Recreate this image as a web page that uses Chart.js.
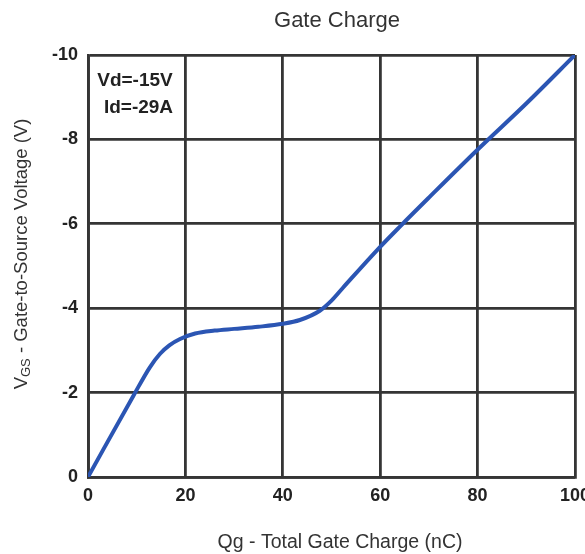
<!DOCTYPE html>
<html>
<head>
<meta charset="utf-8">
<script src="https://cdn.jsdelivr.net/npm/chart.js@4/dist/chart.umd.min.js"></script>
<style>
html,body{margin:0;padding:0;background:#fff;}
#wrap{width:585px;height:554px;position:relative;}
</style>
</head>
<body>
<div id="wrap"><canvas id="c" width="585" height="554"></canvas></div>
<script>
const chartTitle = "Gate Charge";
const xTitle = "Qg - Total Gate Charge (nC)";
const yTitleMain = "V";
const yTitleSub = "GS";
const yTitleRest = " - Gate-to-Source Voltage (V)";
const noteLines = ["Vd=-15V", "Id=-29A"];
const xTicks = [0, 20, 40, 60, 80, 100];
const yTicks = [0, -2, -4, -6, -8, -10];
const gateCharge = [0, 9.3, 12.7, 14.8, 16.7, 18.9, 22, 26, 30, 35, 40, 43.5, 47.6, 50, 52.4, 59.8, 64.1, 70, 80.3, 90, 100];
const gateVoltage = [0, -1.92, -2.6, -2.92, -3.12, -3.27, -3.4, -3.47, -3.51, -3.56, -3.63, -3.72, -3.94, -4.18, -4.49, -5.43, -5.94, -6.62, -7.79, -8.85, -10];

const FONT = "'Liberation Sans', Arial, sans-serif";
const points = gateCharge.map((q, i) => ({x: q, y: gateVoltage[i]}));

const extras = {
  id: 'extras',
  afterDraw(chart) {
    const ctx = chart.ctx;
    ctx.save();
    // chart title
    ctx.fillStyle = '#333';
    ctx.font = '22px ' + FONT;
    ctx.textAlign = 'center';
    ctx.textBaseline = 'middle';
    ctx.fillText(chartTitle, 337, 21);
    // x title
    ctx.font = '19.5px ' + FONT;
    ctx.fillText(xTitle, 340, 543);
    // note
    ctx.fillStyle = '#222';
    ctx.font = 'bold 19px ' + FONT;
    ctx.fillText(noteLines[0], 135, 81);
    ctx.fillText(noteLines[1], 138.5, 108);
    // y title with subscript
    ctx.translate(22, 254);
    ctx.rotate(-Math.PI / 2);
    ctx.fillStyle = '#333';
    ctx.textBaseline = 'middle';
    ctx.textAlign = 'left';
    const fMain = '18.5px ' + FONT, fSub = '13px ' + FONT;
    ctx.font = fMain; const w1 = ctx.measureText(yTitleMain).width;
    ctx.font = fSub; const w2 = ctx.measureText(yTitleSub).width;
    ctx.font = fMain; const w3 = ctx.measureText(yTitleRest).width;
    let x0 = -(w1 + w2 + w3) / 2;
    ctx.font = fMain; ctx.fillText(yTitleMain, x0, 0);
    ctx.font = fSub; ctx.fillText(yTitleSub, x0 + w1, 4);
    ctx.font = fMain; ctx.fillText(yTitleRest, x0 + w1 + w2, 0);
    ctx.restore();
  }
};

new Chart(document.getElementById('c'), {
  type: 'scatter',
  data: {
    datasets: [{
      data: points,
      showLine: true,
      borderColor: '#2b55b3',
      borderWidth: 4,
      pointRadius: 0,
      cubicInterpolationMode: 'monotone',
      fill: false
    }]
  },
  options: {
    responsive: false,
    animation: false,
    layout: {padding: {top: 55, left: 0, right: 0, bottom: 0}},
    plugins: {
      legend: {display: false},
      tooltip: {enabled: false},
      title: {display: false}
    },
    scales: {
      x: {
        type: 'linear',
        min: 0, max: 100,
        afterBuildTicks: s => { s.ticks = xTicks.map(v => ({value: v})); },
        afterFit: s => { s.height = 77; s.paddingRight = 10; s.paddingLeft = 0; },
        grid: {color: '#353535', lineWidth: 2.8, drawTicks: false},
        border: {color: '#353535', width: 2.8},
        ticks: {color: '#222', font: {family: FONT, size: 18, weight: 'bold'}, padding: 8, maxRotation: 0},
        title: {display: false}
      },
      y: {
        type: 'linear',
        min: -10, max: 0,
        reverse: true,
        afterBuildTicks: s => { s.ticks = yTicks.map(v => ({value: v})); },
        afterFit: s => { s.width = 88; s.paddingTop = 0; s.paddingBottom = 0; },
        grid: {color: '#353535', lineWidth: 2.8, drawTicks: false},
        border: {color: '#353535', width: 2.8},
        ticks: {color: '#222', font: {family: FONT, size: 18, weight: 'bold'}, padding: 10}
      }
    }
  },
  plugins: [extras]
});
</script>
</body>
</html>
